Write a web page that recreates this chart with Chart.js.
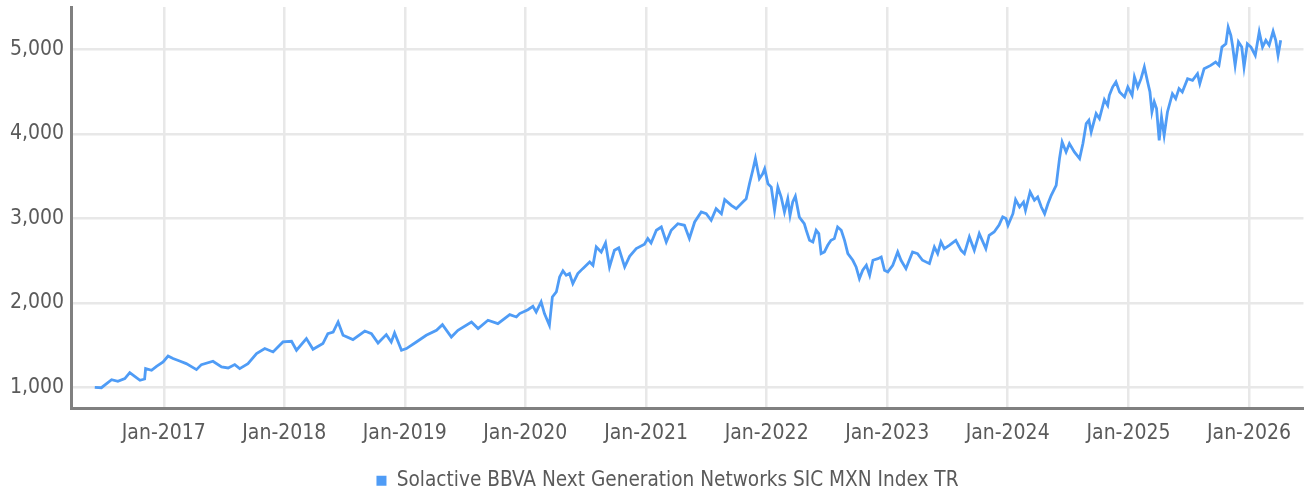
<!DOCTYPE html>
<html>
<head>
<meta charset="utf-8">
<script src="https://cdn.jsdelivr.net/npm/chart.js@4.4.1/dist/chart.umd.min.js"></script>
<style>
  html, body { margin: 0; padding: 0; background: #fff; overflow: hidden; }
  #wrap { width: 1304px; height: 501px; }
</style>
</head>
<body>
<div id="wrap"><canvas id="chart"></canvas></div>
<script>
const seriesName = 'Solactive BBVA Next Generation Networks SIC MXN Index TR';

const dates = [
  '2016-06-06','2016-06-26','2016-07-27','2016-08-15','2016-09-05','2016-09-20','2016-10-05','2016-10-21',
  '2016-11-04','2016-11-07','2016-11-25','2016-12-10','2016-12-30',
  '2017-01-14','2017-01-29','2017-02-18','2017-03-10','2017-04-10','2017-04-25','2017-05-30','2017-06-25',
  '2017-07-15','2017-08-04','2017-08-19','2017-09-13','2017-10-09','2017-11-03','2017-11-28','2017-12-28',
  '2018-01-23','2018-02-07','2018-03-09','2018-03-29','2018-04-28','2018-05-13','2018-05-29','2018-06-13',
  '2018-06-28','2018-07-28','2018-09-02','2018-09-22','2018-10-12','2018-11-06','2018-11-21','2018-12-01',
  '2018-12-22',
  '2019-01-06','2019-02-05','2019-03-07','2019-04-07','2019-04-25','2019-05-22','2019-06-11','2019-07-22',
  '2019-08-11','2019-09-10','2019-10-10','2019-11-15','2019-12-05','2019-12-15',
  '2020-01-09','2020-01-24','2020-02-03','2020-02-18','2020-02-28','2020-03-14','2020-03-23','2020-04-04',
  '2020-04-14','2020-04-24','2020-05-04','2020-05-14','2020-05-24','2020-06-08','2020-06-23','2020-07-14',
  '2020-07-24','2020-08-03','2020-08-18','2020-08-31','2020-09-12','2020-09-27','2020-10-10','2020-10-28',
  '2020-11-12','2020-12-02','2020-12-27',
  '2021-01-06','2021-01-16','2021-02-01','2021-02-16','2021-03-03','2021-03-18','2021-04-07','2021-04-27',
  '2021-05-12','2021-05-28','2021-06-17','2021-07-02','2021-07-17','2021-08-01','2021-08-17','2021-08-27',
  '2021-09-16','2021-10-01','2021-10-21','2021-10-31','2021-11-10','2021-11-20','2021-11-28','2021-12-10',
  '2021-12-20','2021-12-26',
  '2022-01-05','2022-01-15','2022-01-25','2022-02-04','2022-02-14','2022-02-24','2022-03-06','2022-03-13',
  '2022-03-21','2022-03-29','2022-04-10','2022-04-25','2022-05-01','2022-05-11','2022-05-21','2022-05-31',
  '2022-06-08','2022-06-15','2022-06-25','2022-07-05','2022-07-15','2022-07-25','2022-08-04','2022-08-15',
  '2022-08-25','2022-09-04','2022-09-19','2022-09-29','2022-10-09','2022-10-19','2022-10-30','2022-11-09',
  '2022-11-19','2022-12-04','2022-12-14','2022-12-24',
  '2023-01-03','2023-01-18','2023-02-02','2023-02-12','2023-02-27','2023-03-19','2023-04-03','2023-04-18',
  '2023-05-09','2023-05-24','2023-06-03','2023-06-13','2023-06-23','2023-07-08','2023-07-28','2023-08-13',
  '2023-08-23','2023-09-07','2023-09-22','2023-10-07','2023-10-27','2023-11-06','2023-11-21','2023-12-06',
  '2023-12-17','2023-12-27',
  '2024-01-02','2024-01-17','2024-01-25','2024-02-06','2024-02-18','2024-02-24','2024-03-09','2024-03-22',
  '2024-04-01','2024-04-12','2024-04-22','2024-05-02','2024-05-12','2024-05-27','2024-06-06','2024-06-14',
  '2024-06-26','2024-07-06','2024-07-21','2024-08-06','2024-08-16','2024-08-26','2024-09-03','2024-09-10',
  '2024-09-25','2024-10-05','2024-10-20','2024-10-30','2024-11-04','2024-11-14','2024-11-24','2024-12-05',
  '2024-12-20','2024-12-30',
  '2025-01-12','2025-01-19','2025-01-29','2025-02-08','2025-02-18','2025-02-28','2025-03-07','2025-03-13',
  '2025-03-20','2025-03-27','2025-04-04','2025-04-11','2025-04-19','2025-04-29','2025-05-14','2025-05-24',
  '2025-06-03','2025-06-13','2025-06-29','2025-07-14','2025-07-29','2025-08-05','2025-08-18','2025-09-07',
  '2025-09-22','2025-10-02','2025-10-11','2025-10-23','2025-10-30','2025-11-07','2025-11-12','2025-11-20',
  '2025-11-30','2025-12-10','2025-12-17','2025-12-27',
  '2026-01-07','2026-01-20','2026-02-01','2026-02-11','2026-02-21','2026-03-03','2026-03-15','2026-03-23',
  '2026-03-30','2026-04-07'
];

const values = [
  1000, 995, 1090, 1070, 1103, 1174, 1130, 1083,
  1098, 1221, 1201, 1248, 1300,
  1370, 1340, 1311, 1280, 1209, 1268, 1308, 1240,
  1228, 1268, 1221, 1280, 1398, 1458, 1418, 1536,
  1544, 1438, 1576, 1450, 1517, 1635, 1654, 1773,
  1615, 1564, 1666, 1635, 1524, 1623, 1536, 1643,
  1438,
  1458, 1536, 1615, 1675, 1741, 1595, 1675, 1773,
  1695, 1793, 1753, 1860, 1832, 1872,
  1918, 1959, 1891, 2010, 1872, 1734, 2069, 2128,
  2306, 2377, 2325, 2345, 2227, 2345, 2404, 2483,
  2444, 2660, 2601, 2708, 2424, 2621, 2649, 2424,
  2550, 2641, 2692,
  2760, 2708, 2858, 2897, 2720, 2858, 2936, 2917,
  2760, 2956, 3074, 3054, 2976, 3113, 3054, 3220,
  3153, 3113, 3192, 3231, 3409, 3568, 3706, 3468,
  3527, 3586,
  3409, 3369, 3095, 3369, 3251, 3074, 3231, 3035,
  3192, 3260, 3014, 2936, 2858, 2739, 2720, 2858,
  2818, 2582, 2601, 2680, 2739, 2759, 2897, 2858,
  2739, 2582, 2503, 2424, 2286, 2385, 2444, 2325,
  2503, 2522, 2542, 2385,
  2365, 2444, 2601, 2503, 2404, 2601, 2582, 2503,
  2463, 2660, 2582, 2720, 2641, 2680, 2739, 2621,
  2582, 2779, 2621, 2818, 2641, 2799, 2838, 2920,
  3015, 2996,
  2917, 3054, 3220, 3133, 3192, 3094, 3311, 3213,
  3252, 3133, 3054, 3172, 3272, 3390, 3706, 3903,
  3785, 3884, 3785, 3706, 3884, 4120, 4160, 4021,
  4238, 4179, 4403, 4336, 4455, 4553, 4613, 4494,
  4436, 4553,
  4455, 4672, 4553, 4652, 4790, 4613, 4494, 4258,
  4377, 4298, 3923, 4199, 3982, 4258, 4474, 4416,
  4534, 4494, 4652, 4632, 4711, 4593, 4770, 4809,
  4848, 4809, 5026, 5065, 5262, 5166, 5047, 4809,
  5087, 5026, 4790, 5065,
  5026, 4928, 5205, 5026, 5106, 5047, 5213, 5106,
  4928, 5106
];

const tickYears = [2017, 2018, 2019, 2020, 2021, 2022, 2023, 2024, 2025, 2026];
const yTicks = [1000, 2000, 3000, 4000, 5000];

const lineBlue = '#4f9cf6';
const textGrey = '#5a5a5a';
const gridGrey = '#e8e8e8';
const axisGrey = '#808080';

const toMs = s => Date.parse(s + 'T00:00:00Z');
const points = dates.map((d, i) => ({ x: toMs(d), y: values[i] }));

Chart.defaults.font.family = "'Liberation Sans Narrow', 'DejaVu Sans Condensed', Roboto, sans-serif";
Chart.defaults.font.size = 21;
Chart.defaults.color = textGrey;

// nudge the legend a bit right, like the original
const legendShift = {
  id: 'legendShift',
  afterLayout(chart) {
    if (chart.legend) chart.legend.left += 31;
  }
};

new Chart(document.getElementById('chart'), {
  type: 'line',
  data: {
    datasets: [{
      label: seriesName,
      data: points,
      borderColor: lineBlue,
      backgroundColor: lineBlue,
      borderWidth: 2.8,
      pointRadius: 0,
      tension: 0
    }]
  },
  plugins: [legendShift],
  options: {
    responsive: true,
    maintainAspectRatio: false,
    animation: false,
    layout: { padding: { top: 7, right: 0, left: 0, bottom: 0 } },
    plugins: {
      tooltip: { enabled: false },
      legend: {
        position: 'bottom',
        labels: {
          boxWidth: 10,
          boxHeight: 10,
          padding: 2,
          color: textGrey,
          font: { size: 20.6 },
          generateLabels(chart) {
            const items = Chart.defaults.plugins.legend.labels.generateLabels(chart);
            items.forEach(it => { it.lineWidth = 0; it.fillStyle = lineBlue; });
            return items;
          }
        }
      }
    },
    scales: {
      x: {
        type: 'linear',
        min: toMs('2016-03-26'),
        max: toMs('2026-06-15'),
        afterBuildTicks(scale) {
          scale.ticks = tickYears.map(y => ({ value: Date.UTC(y, 0, 1) }));
        },
        afterFit(scale) { scale.height = 60; },
        ticks: {
          autoSkip: false,
          maxRotation: 0,
          padding: 13,
          callback: v => 'Jan-' + new Date(v).getUTCFullYear()
        },
        grid: { color: gridGrey, lineWidth: 2.5, drawTicks: false },
        border: { color: axisGrey, width: 3 }
      },
      y: {
        min: 750,
        max: 5500,
        afterBuildTicks(scale) {
          scale.ticks = yTicks.map(v => ({ value: v }));
        },
        afterFit(scale) {
          scale.width = 71;
          scale.paddingTop = 0;
          scale.paddingBottom = 0;
        },
        ticks: {
          padding: 7,
          callback: v => v.toLocaleString('en-US')
        },
        grid: { color: gridGrey, lineWidth: 2.5, drawTicks: false },
        border: { color: axisGrey, width: 3 }
      }
    }
  }
});
</script>
</body>
</html>
